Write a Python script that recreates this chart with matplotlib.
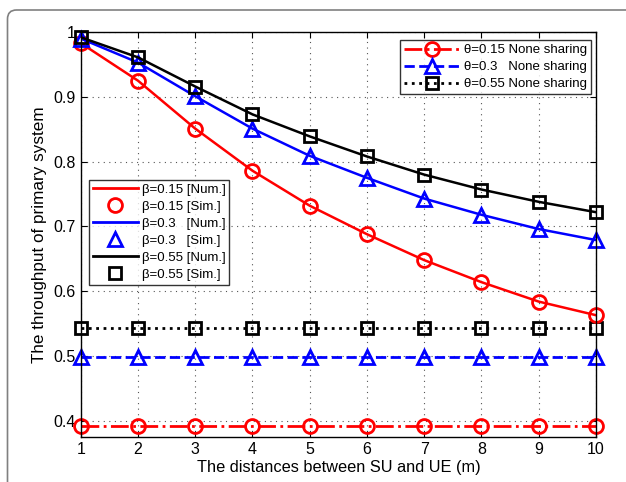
import numpy as np
import matplotlib
matplotlib.use('Agg')
import matplotlib.pyplot as plt
from matplotlib.patches import PathPatch
from matplotlib.path import Path
from matplotlib.lines import Line2D
from matplotlib.transforms import IdentityTransform
from matplotlib.ticker import FuncFormatter

plt.rcParams['font.family'] = ['Liberation Sans', 'DejaVu Sans']

# ── data ──────────────────────────────────────────────────────────────────────
distance = [1, 2, 3, 4, 5, 6, 7, 8, 9, 10]

thr_b015 = [0.983, 0.925, 0.851, 0.786, 0.732, 0.688, 0.648, 0.614, 0.584, 0.563]
thr_b030 = [0.990, 0.953, 0.901, 0.851, 0.809, 0.775, 0.743, 0.718, 0.696, 0.679]
thr_b055 = [0.992, 0.961, 0.916, 0.873, 0.839, 0.808, 0.780, 0.757, 0.738, 0.722]

none_t015 = [0.392] * 10
none_t030 = [0.498] * 10
none_t055 = [0.544] * 10

num_labels = ['β=0.15 [Num.]', 'β=0.3   [Num.]', 'β=0.55 [Num.]']
sim_labels = ['β=0.15 [Sim.]', 'β=0.3   [Sim.]', 'β=0.55 [Sim.]']
none_labels = ['θ=0.15 None sharing', 'θ=0.3   None sharing', 'θ=0.55 None sharing']

RED, BLUE, BLACK = '#FF0000', '#0000FF', '#000000'

# ── figure ────────────────────────────────────────────────────────────────────
fig = plt.figure(figsize=(6.26, 4.82), dpi=100, facecolor='white')

# page frame: left edge + rounded top-left corner + top edge (pixel coords)
x0, ytop, r = 7.5, 472.0, 9.0
frame_path = Path([(x0, -5), (x0, ytop - r), (x0, ytop), (x0 + r, ytop), (640, ytop)],
                  [Path.MOVETO, Path.LINETO, Path.CURVE3, Path.CURVE3, Path.LINETO])
fig.patches.append(PathPatch(frame_path, transform=IdentityTransform(),
                             facecolor='none', edgecolor='#808080', lw=1.2))

ax = fig.add_axes([0.129, 0.0934, 0.823, 0.840])

def sim_style(m):
    return dict(marker=m, markersize=8 if m == 's' else 10, markeredgewidth=2,
                markerfacecolor='none')

# flat "none sharing" references
ax.plot(distance, none_t015, '-.', color=RED, lw=2, clip_on=False, **sim_style('o'))
ax.plot(distance, none_t030, '--', color=BLUE, lw=2, clip_on=False, **sim_style('^'))
ax.plot(distance, none_t055, ':', color=BLACK, lw=2, clip_on=False, **sim_style('s'))

# numerical curves + simulated markers
for vals, c, m in [(thr_b015, RED, 'o'), (thr_b030, BLUE, '^'), (thr_b055, BLACK, 's')]:
    ax.plot(distance, vals, '-', color=c, lw=1.8)
    ax.plot(distance, vals, ls='none', color=c, clip_on=False, **sim_style(m))

ax.set_xlim(1, 10)
ax.set_ylim(0.375, 1.0)
ax.set_xticks(distance)
ax.set_yticks([0.4, 0.5, 0.6, 0.7, 0.8, 0.9, 1.0])
ax.yaxis.set_major_formatter(FuncFormatter(lambda v, p: f'{v:g}'))
ax.tick_params(direction='in', top=True, right=True, labelsize=11.5, length=4, width=0.8)
ax.grid(True, ls=(0, (1, 4)), color='#555555', lw=0.8)
for s in ax.spines.values():
    s.set_linewidth(1.0)

ax.set_xlabel('The distances between SU and UE (m)', fontsize=11.8, labelpad=2)
ax.set_ylabel('The throughput of primary system', fontsize=12.3, labelpad=5)

# legend: none sharing
h_none = [Line2D([], [], ls='-.', color=RED, lw=2, **sim_style('o')),
          Line2D([], [], ls='--', color=BLUE, lw=2, **sim_style('^')),
          Line2D([], [], ls=':', color=BLACK, lw=2, **sim_style('s'))]
leg1 = ax.legend(h_none, none_labels, loc='upper right', bbox_to_anchor=(0.99, 0.98),
                 fontsize=9.5, frameon=True, fancybox=False, edgecolor='black',
                 handlelength=4.2, handletextpad=0.3, labelspacing=0.36,
                 borderpad=0.3, borderaxespad=0)
leg1.get_frame().set_linewidth(1.0)
ax.add_artist(leg1)

# legend: numerical / simulated
h_beta = []
lbl_beta = []
for c, m, ln, ls_ in zip([RED, BLUE, BLACK], ['o', '^', 's'], num_labels, sim_labels):
    h_beta.append(Line2D([], [], ls='-', color=c, lw=2))
    h_beta.append(Line2D([], [], ls='none', color=c, **sim_style(m)))
    lbl_beta += [ln, ls_]
leg2 = ax.legend(h_beta, lbl_beta, loc='upper left', bbox_to_anchor=(0.0155, 0.635),
                 fontsize=9.5, frameon=True, fancybox=False, edgecolor='black',
                 handlelength=3.4, handletextpad=0.3, labelspacing=0.36,
                 borderpad=0.3, borderaxespad=0)
leg2.get_frame().set_linewidth(1.0)

plt.savefig('out.png', dpi=100, facecolor='white')
